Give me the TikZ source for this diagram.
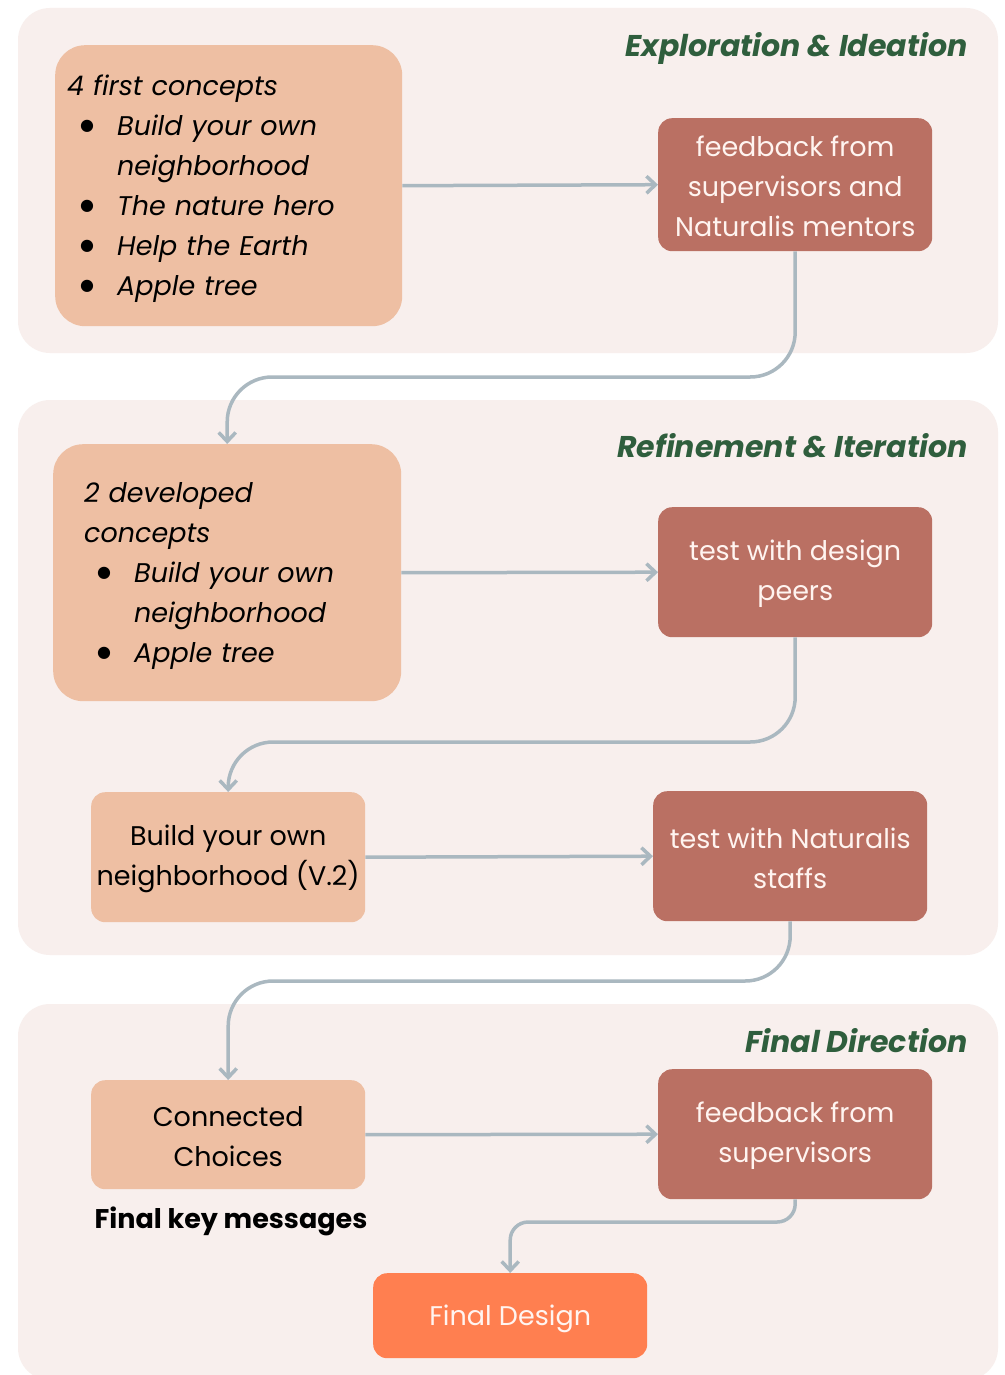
\documentclass[tikz,border=0pt]{standalone}
\usepackage{fontspec}
\setmainfont{Poppins}
\newfontfamily\dotfont{DejaVu Sans}
\usetikzlibrary{arrows.meta}
\definecolor{panel}{HTML}{F8EFED}
\definecolor{lightbox}{HTML}{EEBFA3}
\definecolor{darkbox}{HTML}{BA7063}
\definecolor{finalbox}{HTML}{FF7F50}
\definecolor{conn}{HTML}{AAB8C0}
\definecolor{phase}{HTML}{2F5E3D}
\definecolor{boxtext}{HTML}{FFF4F0}
\newcommand\bul{\makebox[50pt][l]{\hspace{13pt}{\dotfont\fontsize{16}{16}\selectfont\raisebox{5pt}{●}}}}
\newcommand\cont{\hspace*{50pt}}
\tikzset{
  panelbox/.style={fill=panel, draw=none, rounded corners=32pt},
  idea/.style={fill=lightbox, draw=none, rounded corners=30pt, anchor=north west,
    font=\fontsize{27}{40}\selectfont\itshape, align=left, inner ysep=0pt},
  plain/.style={fill=lightbox, draw=none, rounded corners=14pt, anchor=north west,
    font=\fontsize{27}{40}\selectfont, align=center, inner sep=0pt},
  review/.style={fill=darkbox, draw=none, rounded corners=14pt, anchor=north west,
    text=boxtext, font=\fontsize{27}{40}\selectfont, align=center, inner sep=0pt,
    minimum width=274pt},
  result/.style={fill=finalbox, draw=none, rounded corners=14pt, anchor=north west,
    text=boxtext, font=\fontsize{27}{40}\selectfont, inner sep=0pt,
    minimum width=274pt, minimum height=85pt},
  phasetitle/.style={anchor=east, text=phase, font=\fontsize{30}{36}\selectfont\bfseries\itshape},
  flow/.style={draw=conn, line width=3.5pt, -{Straight Barb[length=9pt,width=17pt,line width=3.5pt]}},
}
\begin{document}
\begin{tikzpicture}[x=1pt,y=-1pt]
\useasboundingbox (0,0) rectangle (1004,1375);
\fill[white] (0,0) rectangle (1004,1375);

% phase panels
\path[panelbox] (18,8) rectangle (998,353);
\path[panelbox] (18,400) rectangle (998,955);
\path[panelbox] (18,1004) rectangle (998,1380);

\node[phasetitle] (t1) at (971,48) {Exploration \& Ideation};
\node[phasetitle] (t2) at (971,446) {Refinement \& Iteration};
\node[phasetitle] (t3) at (971,1041) {Final Direction};

% Exploration & Ideation
\node[idea, text width=323pt, inner xsep=12pt, minimum height=281pt] (a1) at (55,45)
  {\rule{0pt}{26pt}4 first concepts\\
   \bul Build your own\\
   \cont neighborhood\\
   \bul The nature hero\\
   \bul Help the Earth\\
   \bul Apple tree};
\node[review, minimum height=133pt] (b1) at (658,118)
  {\rule{0pt}{24pt}feedback from\\supervisors and\\Naturalis mentors};

% Refinement & Iteration
\node[idea, text width=286pt, inner xsep=31pt, minimum height=257pt] (a2) at (53,444)
  {\rule{0pt}{26pt}2 developed\\
   concepts\\
   \bul Build your own\\
   \cont neighborhood\\
   \bul Apple tree};
\node[review, minimum height=130pt] (b2) at (658,507)
  {\rule{0pt}{24pt}test with design\\peers};
\node[plain, minimum width=274pt, minimum height=130pt] (a3) at (91,792)
  {\rule{0pt}{24pt}Build your own\\neighborhood (V.2)};
\node[review, minimum height=130pt] (b3) at (653,791)
  {\rule{0pt}{24pt}test with Naturalis\\staffs};

% Final Direction
\node[plain, minimum width=274pt, minimum height=109pt] (a4) at (91,1080)
  {\rule{0pt}{24pt}Connected\\Choices};
\node[review, minimum height=130pt] (b4) at (658,1069)
  {\rule{0pt}{24pt}feedback from\\supervisors};
\node[font=\fontsize{27}{32}\selectfont\bfseries] (km) at (231,1221) {Final key messages};
\node[result] (fd) at (373,1273) {\rule{0pt}{26pt}Final Design};

% coordinates of the horizontal runs between phases
\coordinate (r1) at (0,377);
\coordinate (r2) at (0,742);
\coordinate (r3) at (0,981);
\coordinate (r4) at (0,1222);

% connectors
\draw[flow] (a1.east) -- (b1.west);
\draw[flow, rounded corners=45pt] (b1.south) |- (a2.north |- r1) -- (a2.north);
\draw[flow] (a2.east) -- (b2.west);
\draw[flow, rounded corners=45pt] (b2.south) |- (a3.north |- r2) -- (a3.north);
\draw[flow] (a3.east) -- (b3.west);
\draw[flow, rounded corners=45pt] (b3.south) |- (a4.north |- r3) -- (a4.north);
\draw[flow] (a4.east) -- (b4.west);
\draw[flow, rounded corners=18pt] (b4.south) |- (fd.north |- r4) -- (fd.north);
\end{tikzpicture}
\end{document}
